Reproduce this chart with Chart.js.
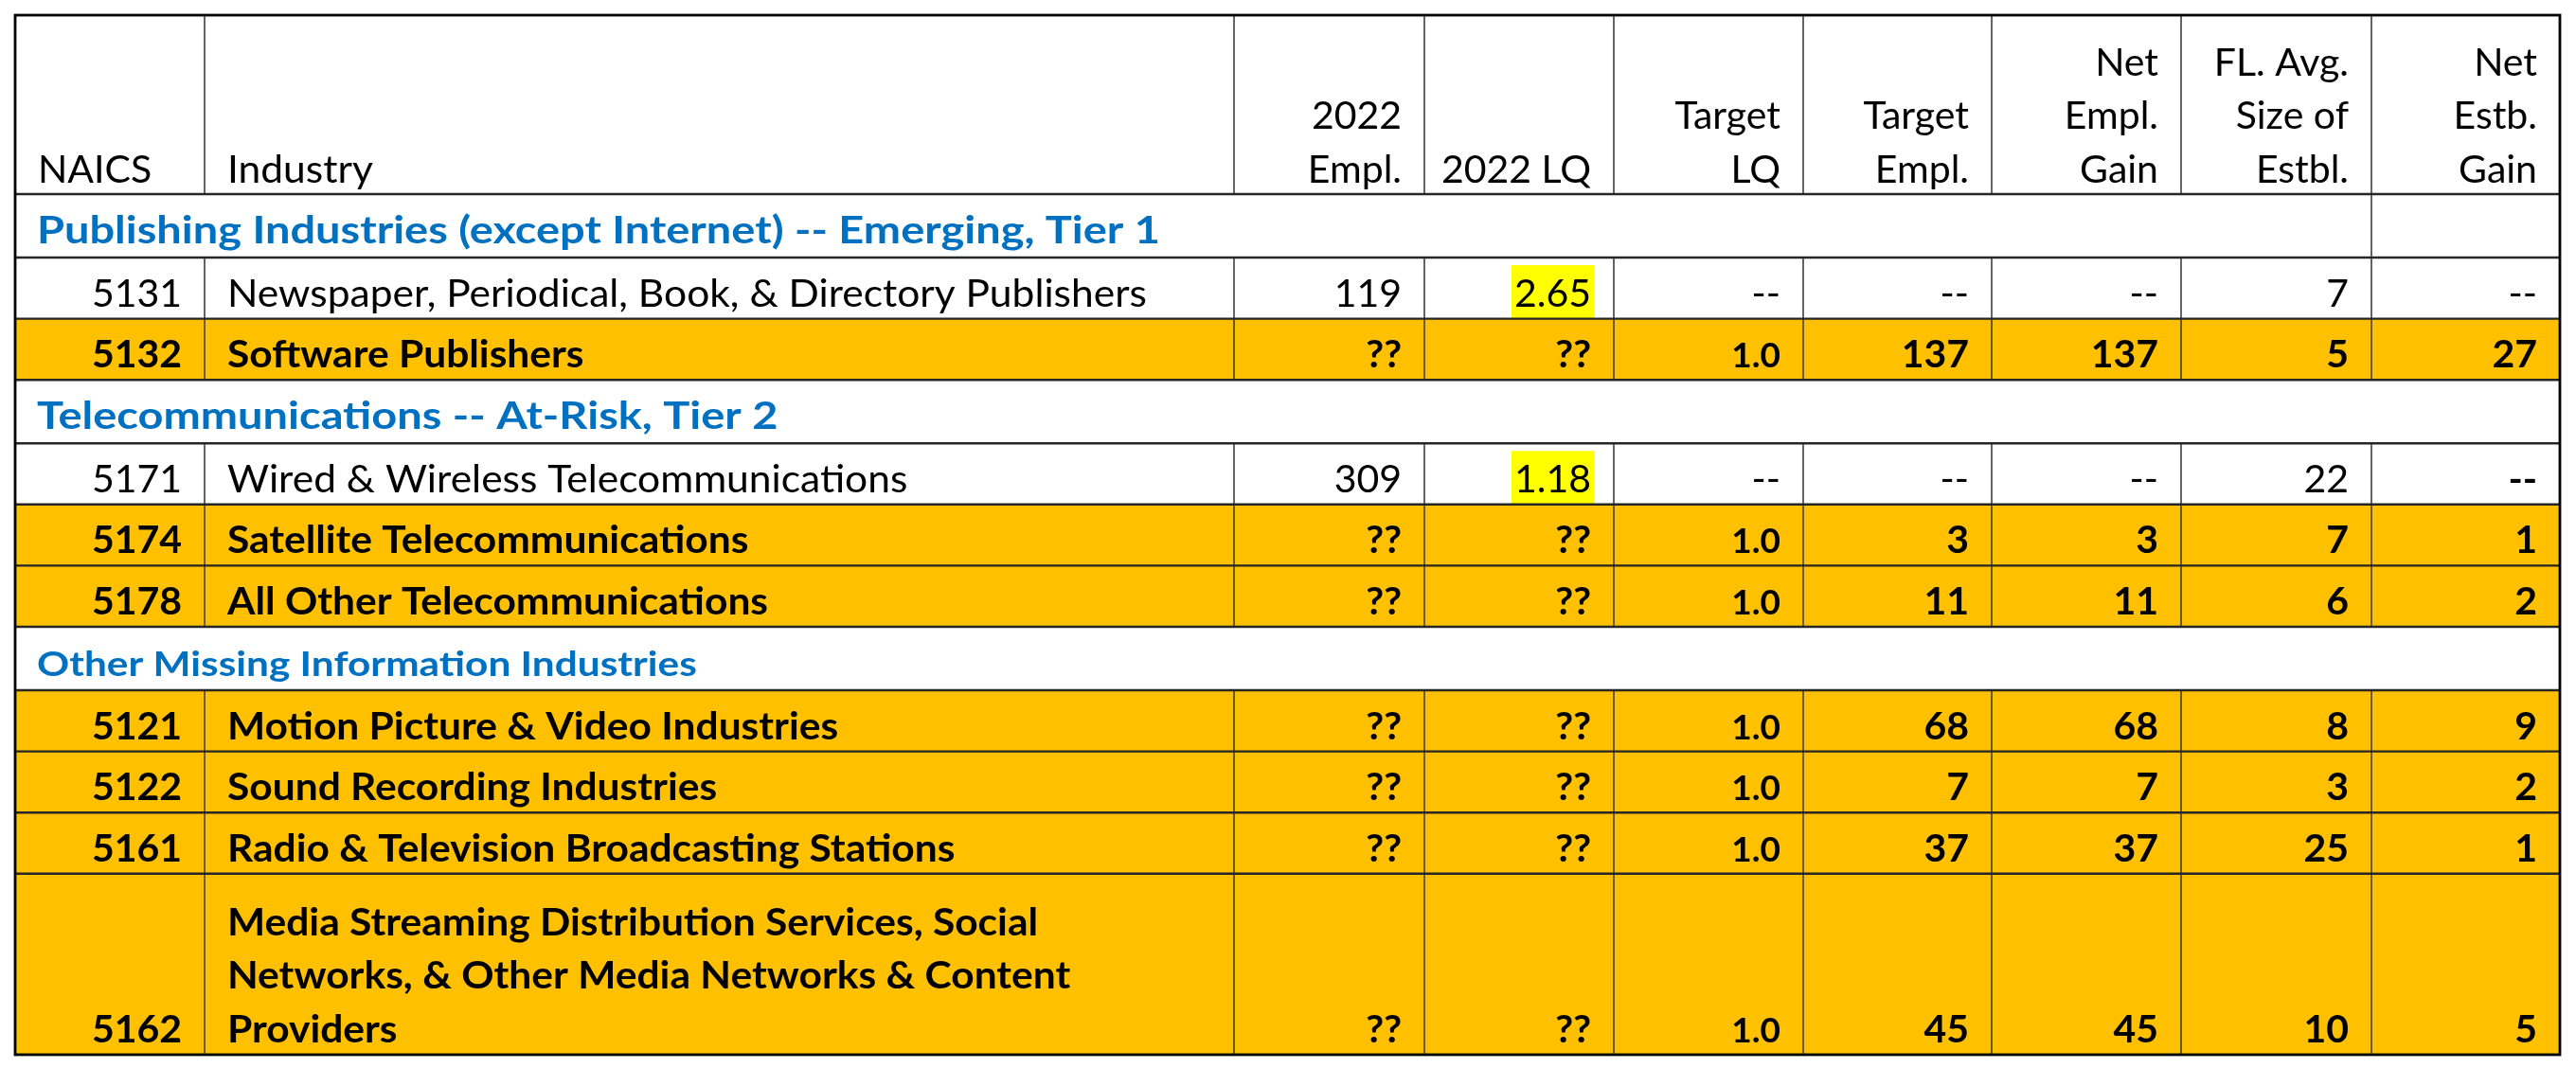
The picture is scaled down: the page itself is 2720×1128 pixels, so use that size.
<!DOCTYPE html>
<html>
<head>
<meta charset="utf-8">
<script src="https://cdn.jsdelivr.net/npm/chart.js@4.4.1/dist/chart.umd.min.js"></script>
<style>
  html, body { margin: 0; padding: 0; background: #fff; }
  canvas { display: block; }
</style>
</head>
<body>
<canvas id="tableChart" width="2720" height="1128"></canvas>
<script>
// column headings (multi-line like chart.js labels)
var headers = [
  ['NAICS'], ['Industry'], ['2022', 'Empl.'], ['2022 LQ'], ['Target', 'LQ'],
  ['Target', 'Empl.'], ['Net', 'Empl.', 'Gain'], ['FL. Avg.', 'Size of', 'Estbl.'], ['Net', 'Estb.', 'Gain']
];

var sectionTitles = [
  'Publishing Industries (except Internet) -- Emerging, Tier 1',
  'Telecommunications -- At-Risk, Tier 2',
  'Other Missing Information Industries'
];

var rowSection = [0, 0, 1, 1, 1, 2, 2, 2, 2];
var naicsCodes = ['5131', '5132', '5171', '5174', '5178', '5121', '5122', '5161', '5162'];
var industries = [
  'Newspaper, Periodical, Book, & Directory Publishers',
  'Software Publishers',
  'Wired & Wireless Telecommunications',
  'Satellite Telecommunications',
  'All Other Telecommunications',
  'Motion Picture & Video Industries',
  'Sound Recording Industries',
  'Radio & Television Broadcasting Stations',
  ['Media Streaming Distribution Services, Social', 'Networks, & Other Media Networks & Content', 'Providers']
];
var empl2022    = [119, '??', 309, '??', '??', '??', '??', '??', '??'];
var lq2022      = ['2.65', '??', '1.18', '??', '??', '??', '??', '??', '??'];
var targetLQ    = ['--', '1.0', '--', '1.0', '1.0', '1.0', '1.0', '1.0', '1.0'];
var targetEmpl  = ['--', 137, '--', 3, 11, 68, 7, 37, 45];
var netEmplGain = ['--', 137, '--', 3, 11, 68, 7, 37, 45];
var avgEstbSize = [7, 5, 22, 7, 6, 8, 3, 25, 10];
var netEstbGain = ['--', 27, '--', 1, 2, 9, 2, 1, 5];

// layout (pixels)
var colEdges = [16, 216, 1303, 1504, 1704, 1904, 2103, 2303, 2504, 2703];
var tableTop = 16;
var headerH = 189, sectionH = 67, rowH = 64.6, lineH = 56.5;
var padX = 24;
var FONT = 'Lato, "Liberation Sans", sans-serif';
var ORANGE = '#FFC000', BLUE = '#0070C0', HILITE = '#FFFF00';
var sectionSizes = [41, 41, 37];
var boldExtra = [[2, 8]]; // "--" in the 5171 row is bold in the source
// Lato is a bit narrower than the Calibri of the source, widen words a little
var stretchText = 1.037, stretchSection = 1.145;

var tablePlugin = {
  id: 'tablePlugin',
  afterDraw: function (chart) {
    var ctx = chart.ctx;
    var xs = chart.scales.x, ys = chart.scales.y;
    var X = function (v) { return xs.getPixelForValue(v); };
    var Y = function (v) { return ys.getPixelForValue(v); };
    var L = colEdges[0], R = colEdges[colEdges.length - 1];

    // build row list
    var rows = [{ kind: 'header', top: tableTop, h: headerH }];
    var y = tableTop + headerH, lastSec = -1;
    for (var i = 0; i < naicsCodes.length; i++) {
      if (rowSection[i] !== lastSec) {
        lastSec = rowSection[i];
        rows.push({ kind: 'section', sec: lastSec, top: y, h: sectionH });
        y += sectionH;
      }
      var nl = Array.isArray(industries[i]) ? industries[i].length : 1;
      var h = rowH + (nl - 1) * lineH * 1.12;
      rows.push({ kind: 'data', idx: i, top: y, h: h });
      y += h;
    }

    function put(str, x, yy, align, sx) {
      ctx.save();
      ctx.translate(x, yy);
      ctx.scale(sx || 1, 1);
      ctx.textAlign = align;
      ctx.fillText(str, 0, 0);
      ctx.restore();
    }

    function text(lines, col, bottom, align, font, color, sx) {
      if (!Array.isArray(lines)) lines = [lines];
      ctx.font = font;
      ctx.fillStyle = color;
      ctx.textBaseline = 'alphabetic';
      var x = align === 'left' ? X(colEdges[col] + padX) : X(colEdges[col + 1] - padX);
      for (var k = 0; k < lines.length; k++) {
        var base = bottom - 13 - (lines.length - 1 - k) * lineH;
        put(String(lines[k]), x, Y(base), align, sx);
      }
    }

    ctx.save();
    // backgrounds
    rows.forEach(function (r) {
      var orange = r.kind === 'data' && empl2022[r.idx] === '??';
      ctx.fillStyle = orange ? ORANGE : '#FFFFFF';
      ctx.fillRect(X(L), Y(r.top), X(R) - X(L), Y(r.top + r.h) - Y(r.top));
    });

    // text
    rows.forEach(function (r) {
      var bottom = r.top + r.h;
      if (r.kind === 'header') {
        headers.forEach(function (hd, c) {
          text(hd, c, bottom + 0.5, c < 2 ? 'left' : 'right', '41px ' + FONT, '#000', c === 1 ? stretchText : 1);
        });
      } else if (r.kind === 'section') {
        ctx.font = 'bold ' + sectionSizes[r.sec] + 'px ' + FONT;
        ctx.fillStyle = BLUE;
        ctx.textBaseline = 'alphabetic';
        put(sectionTitles[r.sec], X(L + 23), Y(bottom - 15), 'left', stretchSection);
      } else {
        var i = r.idx;
        var missing = empl2022[i] === '??';
        var w = missing ? 'bold ' : '';
        var vals = [naicsCodes[i], industries[i], empl2022[i], lq2022[i], targetLQ[i],
                    targetEmpl[i], netEmplGain[i], avgEstbSize[i], netEstbGain[i]];
        vals.forEach(function (v, c) {
          var weight = w;
          boldExtra.forEach(function (b) { if (b[0] === i && b[1] === c) weight = 'bold '; });
          var size = (c === 4 && missing) ? 37 : 41;
          var font = weight + size + 'px ' + FONT;
          if (c === 3 && typeof v === 'string' && !isNaN(parseFloat(v))) {
            ctx.font = font;
            var tw = ctx.measureText(v).width;
            var rx = X(colEdges[c + 1] - padX);
            ctx.fillStyle = HILITE;
            ctx.fillRect(rx - tw - 3, Y(bottom - 56.5), tw + 6, Y(bottom) - Y(bottom - 56.5));
          }
          text(v, c, bottom, c === 1 ? 'left' : 'right', font, '#000', c === 1 ? stretchText : 1);
        });
      }
    });

    // grid lines
    ctx.lineCap = 'butt';
    ctx.strokeStyle = '#404040';
    ctx.lineWidth = 1.6;
    rows.forEach(function (r) {
      var cols = [];
      if (r.kind === 'section') { if (r.sec === 0) cols = [8]; }
      else { for (var c = 1; c < colEdges.length - 1; c++) cols.push(c); }
      cols.forEach(function (c) {
        ctx.beginPath();
        ctx.moveTo(X(colEdges[c]), Y(r.top));
        ctx.lineTo(X(colEdges[c]), Y(r.top + r.h));
        ctx.stroke();
      });
    });
    ctx.strokeStyle = '#262626';
    ctx.lineWidth = 2.4;
    rows.forEach(function (r, k) {
      if (k === 0) return;
      ctx.beginPath();
      ctx.moveTo(X(L), Y(r.top));
      ctx.lineTo(X(R), Y(r.top));
      ctx.stroke();
    });
    ctx.strokeStyle = '#000';
    ctx.lineWidth = 2.8;
    ctx.strokeRect(X(L), Y(tableTop), X(R) - X(L), Y(y) - Y(tableTop));
    ctx.restore();
  }
};

new Chart(document.getElementById('tableChart').getContext('2d'), {
  type: 'scatter',
  data: { datasets: [{ data: [], pointRadius: 0 }] },
  options: {
    responsive: false,
    animation: false,
    devicePixelRatio: 1,
    layout: { padding: 0 },
    plugins: { legend: { display: false }, tooltip: { enabled: false } },
    scales: {
      x: { type: 'linear', min: 0, max: 2720, display: false },
      y: { type: 'linear', min: 0, max: 1128, reverse: true, display: false }
    }
  },
  plugins: [tablePlugin]
});
</script>
</body>
</html>
